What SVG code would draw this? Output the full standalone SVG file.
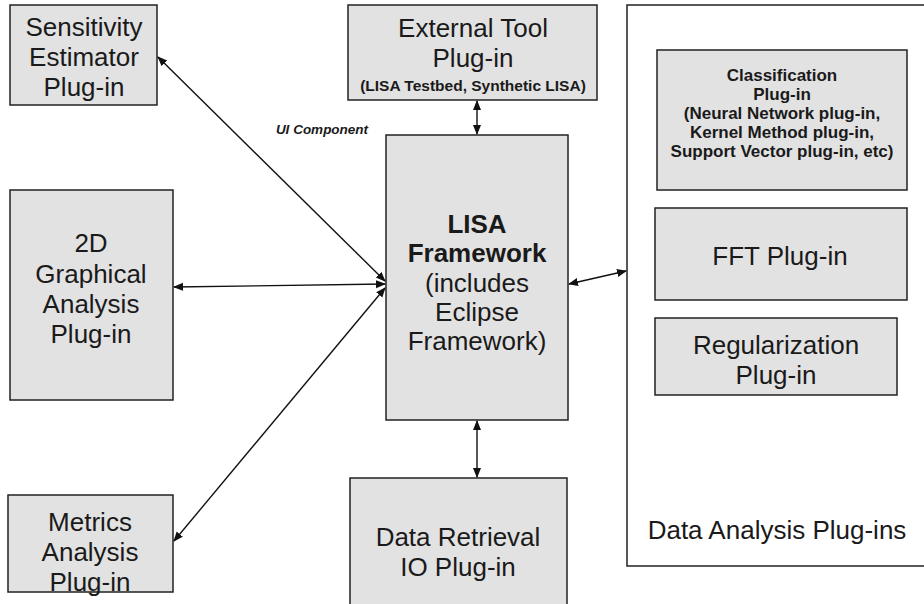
<svg xmlns="http://www.w3.org/2000/svg" width="924" height="604" viewBox="0 0 924 604">
<style>
.box{fill:#e2e2e2;stroke:#222;stroke-width:1.5}
.cont{fill:#fff;stroke:#222;stroke-width:1.5}
.t{font-family:"Liberation Sans",Arial,sans-serif;font-size:26px;fill:#1a1a1a;text-anchor:middle}
.b{font-weight:bold}
.s{font-family:"Liberation Sans",Arial,sans-serif;font-size:17px;font-weight:bold;fill:#1a1a1a;text-anchor:middle}
.c{stroke:#111;stroke-width:1.4;fill:none;marker-start:url(#ah);marker-end:url(#ah)}
</style>
<defs>
<marker id="ah" viewBox="0 0 10 10" refX="9" refY="5" markerWidth="10" markerHeight="10" markerUnits="userSpaceOnUse" orient="auto-start-reverse">
<path d="M0,1 L10,5 L0,9 z" fill="#111"/>
</marker>
</defs>
<rect width="924" height="604" fill="#fff"/>
<g id="data-analysis">
<rect class="cont" x="627" y="5" width="305" height="561"/>
<text class="t" x="777" y="539">Data Analysis Plug-ins</text>
</g>
<g id="classification">
<rect class="box" x="657" y="50" width="250" height="140"/>
<text class="s" x="782" y="81">Classification</text>
<text class="s" x="782" y="100">Plug-in</text>
<text class="s" x="782" y="119">(Neural Network plug-in,</text>
<text class="s" x="782" y="138">Kernel Method plug-in,</text>
<text class="s" x="782" y="157">Support Vector plug-in, etc)</text>
</g>
<g id="fft">
<rect class="box" x="655" y="208" width="252" height="92"/>
<text class="t" x="780" y="265">FFT Plug-in</text>
</g>
<g id="regularization">
<rect class="box" x="655" y="318" width="242" height="77"/>
<text class="t" x="776" y="354">Regularization</text>
<text class="t" x="776" y="384">Plug-in</text>
</g>
<g id="sensitivity">
<rect class="box" x="10" y="5" width="147" height="100"/>
<text class="t" x="84" y="36">Sensitivity</text>
<text class="t" x="84" y="66">Estimator</text>
<text class="t" x="84" y="96">Plug-in</text>
</g>
<g id="external-tool">
<rect class="box" x="348" y="5" width="249" height="95"/>
<text class="t" x="473" y="37">External Tool</text>
<text class="t" x="473" y="67">Plug-in</text>
<text class="s" x="473" y="91" style="font-size:15.5px">(LISA Testbed, Synthetic LISA)</text>
</g>
<g id="lisa">
<rect class="box" x="386" y="135" width="182" height="285"/>
<text class="t b" x="477" y="233">LISA</text>
<text class="t b" x="477" y="262">Framework</text>
<text class="t" x="477" y="292">(includes</text>
<text class="t" x="477" y="321">Eclipse</text>
<text class="t" x="477" y="350">Framework)</text>
</g>
<g id="graphical">
<rect class="box" x="10" y="190" width="163" height="210"/>
<text class="t" x="91" y="252">2D</text>
<text class="t" x="91" y="283">Graphical</text>
<text class="t" x="91" y="313">Analysis</text>
<text class="t" x="91" y="343">Plug-in</text>
</g>
<g id="metrics">
<rect class="box" x="8" y="495" width="165" height="97"/>
<text class="t" x="90" y="531">Metrics</text>
<text class="t" x="90" y="561">Analysis</text>
<text class="t" x="90" y="591">Plug-in</text>
</g>
<g id="data-retrieval">
<rect class="box" x="350" y="478" width="217" height="135"/>
<text class="t" x="458" y="546">Data Retrieval</text>
<text class="t" x="458" y="576">IO Plug-in</text>
</g>
<g id="connectors">
<line class="c" x1="477" y1="101" x2="477" y2="134"/>
<line class="c" x1="158" y1="57" x2="385" y2="281"/>
<line class="c" x1="174" y1="287" x2="385" y2="284"/>
<line class="c" x1="385" y1="288" x2="174" y2="541"/>
<line class="c" x1="569" y1="284" x2="626" y2="271"/>
<line class="c" x1="477" y1="421" x2="477" y2="477"/>
<text x="322" y="134" style="font-family:'Liberation Sans',Arial,sans-serif;font-size:13.5px;font-weight:bold;font-style:italic;fill:#1a1a1a;text-anchor:middle">UI Component</text>
</g>
</svg>
